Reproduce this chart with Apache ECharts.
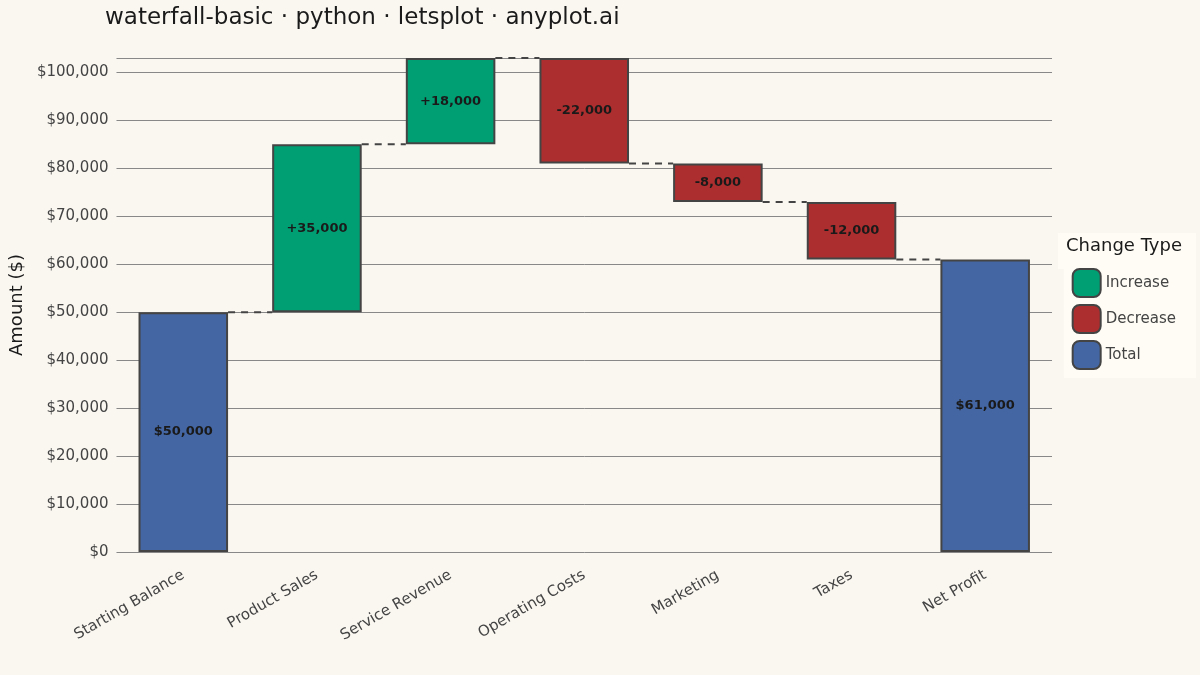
<!DOCTYPE html>
<html>
<head>
<meta charset="utf-8">
<script src="https://cdn.jsdelivr.net/npm/echarts@6/dist/echarts.min.js"></script>
<style>html,body{margin:0;background:#FAF7F1;}#chart{width:1200px;height:675px;}</style>
</head>
<body>
<div id="chart"></div>
<script>
// waterfall data
const categories = ['Starting Balance', 'Product Sales', 'Service Revenue', 'Operating Costs', 'Marketing', 'Taxes', 'Net Profit'];
const changes = [50000, 35000, 18000, -22000, -8000, -12000, 61000];
const kinds = ['Total', 'Increase', 'Increase', 'Decrease', 'Decrease', 'Decrease', 'Total'];
const labels = ['$50,000', '+35,000', '+18,000', '-22,000', '-8,000', '-12,000', '$61,000'];
const yTicks = [0, 100000, 10000]; // min, max, step

const colors = { Increase: '#009E73', Decrease: '#AD2E2E', Total: '#4466A3' };

// base (invisible) and visible heights
let running = 0;
const base = [], height = [], ends = [];
changes.forEach((c, i) => {
    if (kinds[i] === 'Total') {
        base.push(0); height.push(c); running = c;
    } else if (c >= 0) {
        base.push(running); height.push(c); running += c;
    } else {
        base.push(running + c); height.push(-c); running += c;
    }
    ends.push(running);
});

const kindSeries = ['Increase', 'Decrease', 'Total'].map(k => ({
    name: k,
    type: 'bar',
    stack: 'w',
    barWidth: '67%',
    itemStyle: { color: colors[k], borderColor: '#444', borderWidth: 2 },
    label: {
        show: true, position: 'inside', color: '#1a1a1a', fontWeight: 'bold', fontSize: 13,
        fontFamily: 'DejaVu Sans',
        formatter: p => labels[p.dataIndex]
    },
    data: height.map((h, i) => kinds[i] === k ? h : '-')
}));

const chart = echarts.init(document.getElementById('chart'));
chart.setOption({
    backgroundColor: '#FAF7F1',
    textStyle: { fontFamily: 'DejaVu Sans' },
    title: {
        text: 'waterfall-basic · python · letsplot · anyplot.ai',
        left: 100, top: 2,
        textStyle: { fontSize: 23, fontWeight: 'normal', color: '#1a1a1a' }
    },
    grid: { left: 100, right: 148, top: 58, bottom: 123 },
    legend: {
        orient: 'vertical', right: 4, top: 268,
        itemWidth: 28, itemHeight: 28, itemGap: 6,
        padding: [0, 20, 8, 8],
        backgroundColor: '#FEFCF4',
        textStyle: { fontSize: 15, color: '#444' },
        data: ['Increase', 'Decrease', 'Total'],
        itemStyle: { borderColor: '#444', borderWidth: 2 }
    },
    graphic: [
        { type: 'rect', left: 1058, top: 233, shape: { width: 138, height: 36 }, style: { fill: '#FEFCF4' } },
        { type: 'text', left: 1066, top: 237, style: { text: 'Change Type', fontSize: 18, fill: '#1a1a1a', fontFamily: 'DejaVu Sans' } }
    ],
    xAxis: {
        type: 'category', data: categories,
        axisLine: { show: false }, axisTick: { show: false },
        axisLabel: { rotate: 30, fontSize: 15, color: '#444', margin: 22 }
    },
    yAxis: {
        type: 'value', min: yTicks[0], max: 103000, interval: yTicks[2],
        name: 'Amount ($)', nameLocation: 'middle', nameGap: 82,
        nameTextStyle: { fontSize: 18, color: '#1a1a1a' },
        axisLabel: {
            fontSize: 15, color: '#444', showMaxLabel: false,
            formatter: v => v > yTicks[1] ? '' : '$' + v.toLocaleString('en-US')
        },
        splitLine: { lineStyle: { color: '#888', width: 1 } }
    },
    series: [
        {
            name: 'base', type: 'bar', stack: 'w', barWidth: '67%',
            itemStyle: { color: 'transparent' }, emphasis: { disabled: true },
            data: base
        },
        ...kindSeries,
        {
            name: 'connectors', type: 'custom',
            data: ends.slice(0, -1).map((v, i) => [i, v]),
            renderItem: (params, api) => {
                const i = api.value(0), v = api.value(1);
                const bw = api.size([1, 0])[0] * 0.67;
                const p1 = api.coord([i, v]), p2 = api.coord([i + 1, v]);
                return {
                    type: 'line', z2: -1,
                    shape: { x1: p1[0] + bw / 2, y1: p1[1], x2: p2[0] - bw / 2, y2: p2[1] },
                    style: { stroke: '#444', lineWidth: 2, lineDash: [7, 6] }
                };
            }
        }
    ]
});
</script>
</body>
</html>
